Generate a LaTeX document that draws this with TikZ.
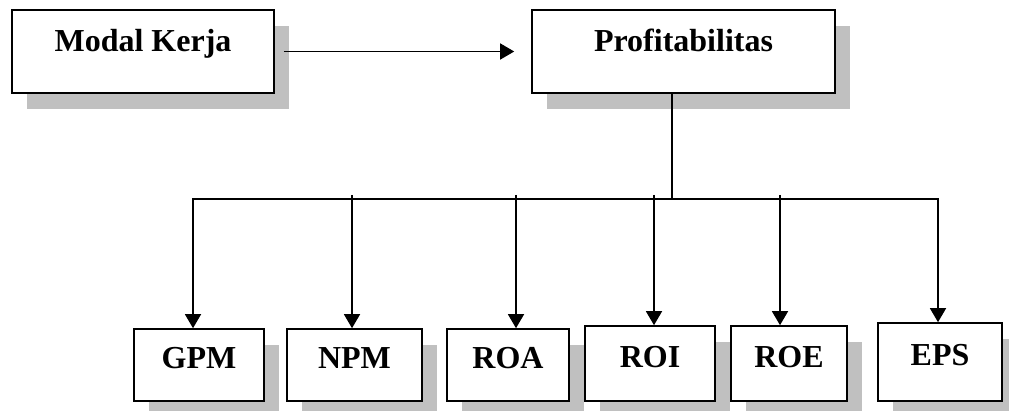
\documentclass[tikz,border=0pt]{standalone}
\usepackage{fontspec}
\setmainfont{Liberation Serif}
\usetikzlibrary{arrows.meta, shadows}
\definecolor{shadowgray}{HTML}{C0C0C0}
\tikzset{
  x=1pt, y=-1pt,
  box/.style={draw, line width=1.6pt, fill=white, inner sep=0pt,
    drop shadow={shadow xshift=15pt, shadow yshift=-16pt, fill=shadowgray, opacity=1},
    font=\fontsize{32}{36}\selectfont\bfseries, text height=21pt, text depth=13pt},
  bigbox/.style={box, minimum height=83pt, text depth=21pt},
  arr/.style={line width=1.4pt, -{Triangle[width=16pt, length=14pt]}},
  wire/.style={line width=1.4pt},
}

\begin{document}
\begin{tikzpicture}
      \useasboundingbox (0,0) rectangle (1009,411);
      \node[bigbox, minimum width=262pt] (modal) at (143,51.5) {Modal Kerja};
      \node[bigbox, minimum width=303pt] (profit) at (683.5,51.5) {Profitabilitas};
      \node[box, minimum width=130pt, minimum height=72pt] (gpm) at (199,365) {GPM};
      \node[box, minimum width=135pt, minimum height=72pt] (npm) at (354.5,365) {NPM};
      \node[box, minimum width=122pt, minimum height=72pt] (roa) at (508,365) {ROA};
      \node[box, minimum width=130pt, minimum height=75pt] (roi) at (650,363.5) {ROI};
      \node[box, minimum width=116pt, minimum height=75pt] (roe) at (789,363.5) {ROE};
      \node[box, minimum width=124pt, minimum height=78pt] (eps) at (940,362) {EPS};
      \coordinate (bus) at (672,199);
      \draw[arr, shorten <=9pt, shorten >=17pt] (modal) -- (profit);
      \draw[wire] (profit.south -| bus) -- (bus);
      \draw[arr] (bus) -| ([xshift=-6pt]gpm.north);
      \draw[arr] (bus) -| ([xshift=-2pt]eps.north);
      \draw[arr] ([xshift=-2.5pt, yshift=4pt]npm.north |- bus) -- ([xshift=-2.5pt]npm.north);
      \draw[arr] ([xshift=8pt, yshift=4pt]roa.north |- bus) -- ([xshift=8pt]roa.north);
      \draw[arr] ([xshift=4pt, yshift=4pt]roi.north |- bus) -- ([xshift=4pt]roi.north);
      \draw[arr] ([xshift=-9pt, yshift=4pt]roe.north |- bus) -- ([xshift=-9pt]roe.north);
    \end{tikzpicture}
\end{document}
